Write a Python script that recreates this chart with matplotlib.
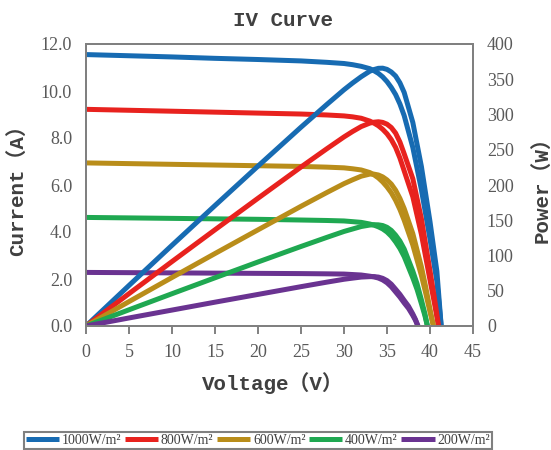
import matplotlib
matplotlib.use("Agg")
import matplotlib.pyplot as plt

### Data ###
series_names = ["1000W/m²", "800W/m²", "600W/m²", "400W/m²", "200W/m²"]
colors = ["#176BB2", "#E8221E", "#B98D1A", "#1FA851", "#6A3391"]

v_1000 = [0, 5, 10, 15, 20, 25, 28, 30, 31, 32, 33, 33.5, 34, 34.5, 35, 35.5, 36, 36.5,
          37, 38, 39, 40, 40.8, 41.3]
i_1000 = [11.55, 11.5, 11.45, 11.39, 11.34, 11.28, 11.22, 11.17, 11.12, 11.05, 10.95, 10.86,
          10.75, 10.6, 10.4, 10.15, 9.85, 9.45, 8.95, 7.6, 5.8, 3.7, 1.9, 0]
p_1000 = [0, 57.5, 114.5, 170.9, 226.8, 282.0, 314.2, 335.1, 344.7, 353.6, 361.4, 363.8,
          365.5, 365.7, 364.0, 360.3, 354.6, 344.9, 331.2, 288.8, 226.2, 148.0, 77.5, 0]

v_800 = [0, 5, 10, 15, 20, 25, 28, 30, 31, 32, 33, 33.5, 34, 34.5, 35, 35.5, 36, 36.5,
         37, 38, 39, 40, 40.5, 41.0]
i_800 = [9.22, 9.18, 9.14, 9.1, 9.06, 9.02, 8.98, 8.94, 8.9, 8.84, 8.72, 8.63,
         8.52, 8.37, 8.18, 7.93, 7.6, 7.15, 6.6, 5.5, 3.9, 1.96, 1.0, 0]
p_800 = [0, 45.9, 91.4, 136.5, 181.2, 225.5, 251.4, 268.2, 275.9, 282.9, 287.8, 289.1,
         289.7, 288.8, 286.3, 281.5, 273.6, 261.0, 244.2, 209.0, 152.1, 78.4, 40.5, 0]

v_600 = [0, 5, 10, 15, 20, 25, 28, 30, 31, 32, 33, 33.5, 34, 34.5, 35, 35.5, 36, 36.5,
         37, 38, 39, 39.5, 40, 40.4]
i_600 = [6.94, 6.91, 6.88, 6.85, 6.82, 6.79, 6.76, 6.73, 6.69, 6.64, 6.53, 6.43,
         6.3, 6.13, 5.92, 5.67, 5.35, 4.96, 4.5, 3.45, 2.15, 1.4, 0.6, 0]
p_600 = [0, 34.6, 68.8, 102.8, 136.4, 169.8, 189.3, 201.9, 207.4, 212.5, 215.5, 215.4,
         214.2, 211.5, 207.2, 201.3, 192.6, 181.0, 166.5, 131.1, 83.9, 55.3, 24.0, 0]

v_400 = [0, 5, 10, 15, 20, 25, 28, 30, 31, 32, 33, 33.5, 34, 34.5, 35, 35.5, 36, 36.5,
         37, 38, 38.5, 39, 39.4, 39.7]
i_400 = [4.62, 4.6, 4.58, 4.56, 4.54, 4.51, 4.49, 4.47, 4.44, 4.41, 4.34, 4.29,
         4.22, 4.13, 4.0, 3.82, 3.58, 3.3, 2.95, 2.05, 1.55, 0.95, 0.45, 0]
p_400 = [0, 23.0, 45.8, 68.4, 90.8, 112.8, 125.7, 134.1, 137.6, 141.1, 143.2, 143.7,
         143.5, 142.5, 140.0, 135.6, 128.9, 120.5, 109.2, 77.9, 59.7, 37.1, 17.7, 0]

v_200 = [0, 5, 10, 15, 20, 25, 28, 30, 31, 32, 33, 33.5, 34, 34.5, 35, 35.5, 36, 36.5,
         37, 37.5, 38, 38.3, 38.6]
i_200 = [2.28, 2.27, 2.26, 2.25, 2.24, 2.23, 2.22, 2.21, 2.19, 2.17, 2.12, 2.09,
         2.04, 1.96, 1.84, 1.67, 1.45, 1.23, 0.98, 0.75, 0.45, 0.25, 0]
p_200 = [0, 11.4, 22.6, 33.8, 44.8, 55.8, 62.2, 66.3, 67.9, 69.4, 70.0, 70.0,
         69.4, 67.6, 64.4, 59.3, 52.2, 44.9, 36.3, 28.1, 17.1, 9.6, 0]

voltages = [v_1000, v_800, v_600, v_400, v_200]
currents = [i_1000, i_800, i_600, i_400, i_200]
powers = [p_1000, p_800, p_600, p_400, p_200]

x_ticks = [0, 5, 10, 15, 20, 25, 30, 35, 40, 45]
i_ticks = [0, 2, 4, 6, 8, 10, 12]
p_ticks = [0, 50, 100, 150, 200, 250, 300, 350, 400]

### Style ###
SPINE = "#808080"
TICK_TXT = "#595959"
LABEL_TXT = "#404040"
SERIF = ["Liberation Serif", "DejaVu Serif"]
MONO = ["Liberation Mono", "Noto Sans CJK SC", "DejaVu Sans"]
LW = 3.6

fig = plt.figure(figsize=(5.51, 4.5), dpi=100)
ax = fig.add_axes([86 / 551, 1 - 326 / 450, 387 / 551, 282 / 450])
ax2 = ax.twinx()

lines = []
for v, cur, col, name in zip(voltages, currents, colors, series_names):
    ln, = ax.plot(v, cur, color=col, lw=LW, label=name, solid_capstyle="butt",
                  solid_joinstyle="round")
    lines.append(ln)
for v, p, col in zip(voltages, powers, colors):
    ax2.plot(v, p, color=col, lw=LW, solid_capstyle="butt", solid_joinstyle="round")

ax.set_xlim(0, 45)
ax.set_ylim(0, 12)
ax2.set_ylim(0, 400)
ax.set_xticks(x_ticks)
ax.set_yticks(i_ticks)
ax.set_yticklabels([f"{t:.1f}" for t in i_ticks])
ax2.set_yticks(p_ticks)

for a in (ax, ax2):
    for s in a.spines.values():
        s.set_color(SPINE)
        s.set_linewidth(1.4)
ax.tick_params(axis="x", direction="out", length=6, width=1.4, color=SPINE, pad=7,
               labelsize=13, labelcolor=TICK_TXT)
ax.tick_params(axis="y", length=0, pad=10, labelsize=13, labelcolor=TICK_TXT)
ax2.tick_params(axis="y", length=0, pad=10, labelsize=13, labelcolor=TICK_TXT)
for lab in ax.get_xticklabels() + ax.get_yticklabels() + ax2.get_yticklabels():
    lab.set_fontfamily(SERIF)

ax.set_xlabel("Voltage（V）", family=MONO, fontsize=15, fontweight="bold",
              color=LABEL_TXT, va="center")
ax.xaxis.set_label_coords(0.483, -0.202)
ax.set_ylabel("Current（A）", family=MONO, fontsize=15, fontweight="bold",
              color=LABEL_TXT, va="center")
ax.yaxis.set_label_coords(-0.178, 0.5)
ax2.set_ylabel("Power（W）", family=MONO, fontsize=15, fontweight="bold",
               color=LABEL_TXT, va="center")
ax2.yaxis.set_label_coords(1.176, 0.5)

ax.text(0.508, 1.085, "IV Curve", transform=ax.transAxes, ha="center", va="center",
        family=MONO, fontsize=15, fontweight="bold", color=LABEL_TXT)

# legend sits at the very bottom of the picture
leg = fig.legend(handles=lines, loc="upper center", bbox_to_anchor=(0.468, 0.04),
                 ncol=5, prop={"family": SERIF, "size": 10}, frameon=True, fancybox=False,
                 handlelength=2.4, handletextpad=0.2, columnspacing=0.25, borderpad=0.15,
                 borderaxespad=0, labelcolor=LABEL_TXT)
leg.get_frame().set_edgecolor(SPINE)
leg.get_frame().set_linewidth(1.5)
leg.get_frame().set_alpha(1)

fig.savefig("out.png", dpi=100)
